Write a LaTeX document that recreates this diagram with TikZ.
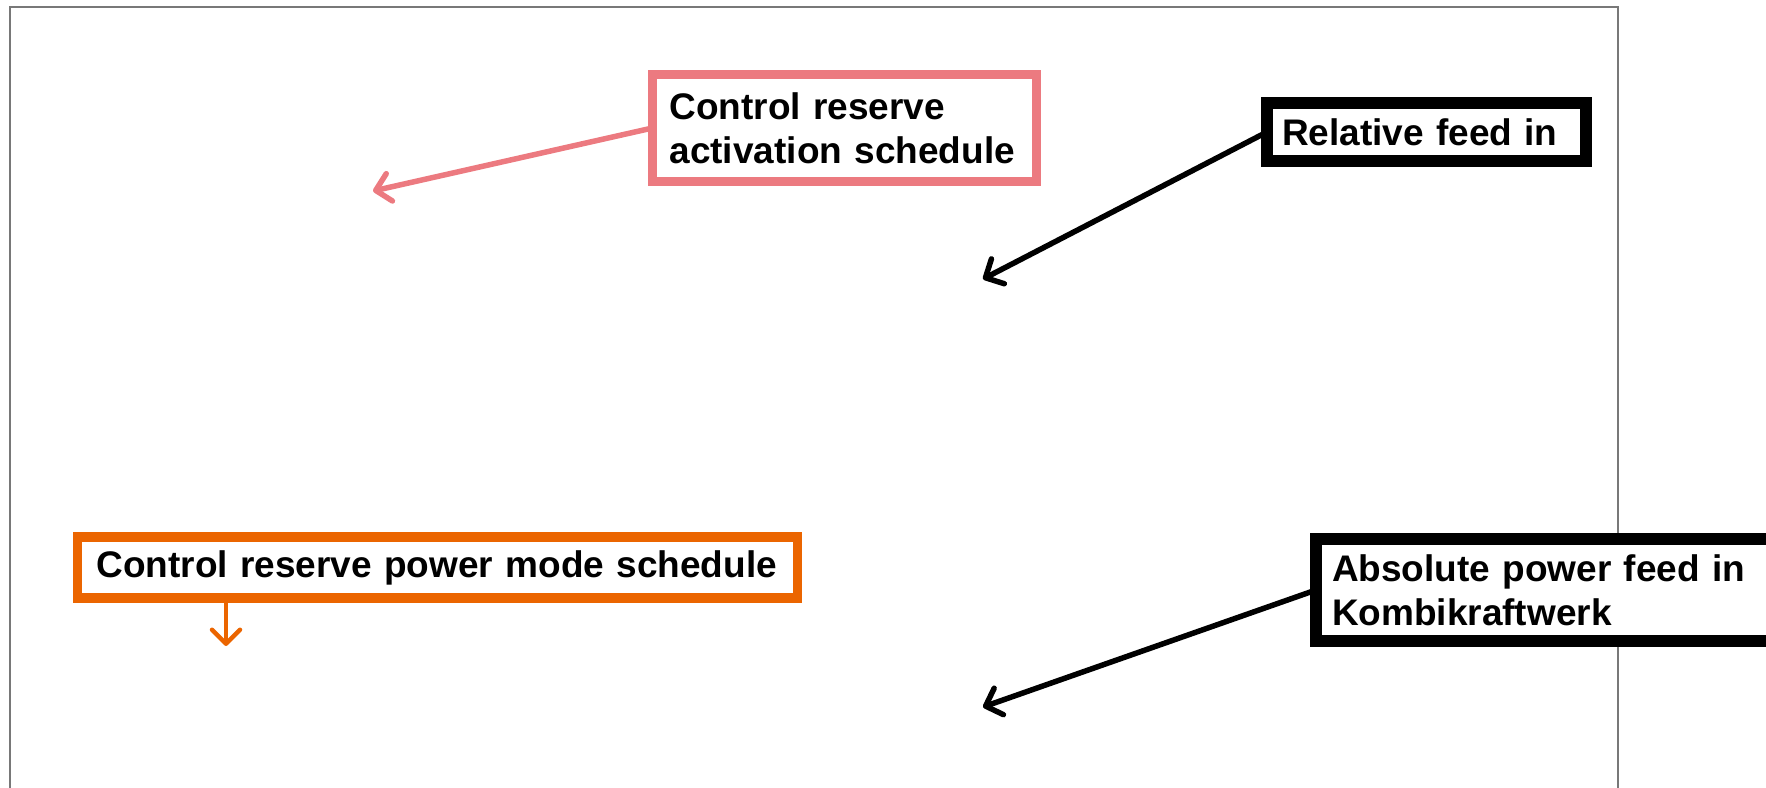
\documentclass[tikz,border=0pt]{standalone}
\usepackage{fontspec}
\setmainfont{Liberation Sans}
\usetikzlibrary{arrows.meta}
\definecolor{pinkc}{RGB}{236,122,128}
\definecolor{orangec}{RGB}{235,101,0}
\definecolor{framec}{RGB}{120,120,120}
\tikzset{
  lbl/.style={font=\fontsize{37}{44}\selectfont\bfseries, align=left, inner ysep=0pt, outer sep=0pt, anchor=center, fill=white},
  arr/.style={line width=5.5pt, -{Straight Barb[length=14pt,width=28pt,round]}}
}
\begin{document}
\begin{tikzpicture}[x=1pt,y=-1pt]
\useasboundingbox (0,0) rectangle (1766,787);
% frame
\draw[framec, line width=1.2pt] (10,800) -- (10,7) -- (1618,7) -- (1618,800);
% boxes
\node[lbl, draw=pinkc, line width=9pt, minimum width=384pt, minimum height=107pt, text width=350pt, inner xsep=17pt] (pbox) at (844.5,128) {Control reserve\\activation schedule};
\node[lbl, draw=black, line width=12pt, minimum width=319pt, minimum height=58pt, text width=289pt, inner xsep=15pt] (rbox) at (1426.5,132) {Relative feed in};
\node[lbl, draw=orangec, line width=9.5pt, minimum width=720pt, minimum height=61pt, text width=682pt, inner xsep=19pt] (obox) at (437.5,567.5) {Control reserve power mode schedule};
\node[lbl, draw=black, line width=12pt, minimum width=560pt, minimum height=102pt, text width=528pt, inner xsep=16pt, anchor=west] (abox) at (1316,590) {Absolute power feed in\\Kombikraftwerk};
% arrow end points
\coordinate (ptip) at (373,191);
\coordinate (rtip) at (983,279);
\coordinate (otip) at (226,646);
\coordinate (atip) at (983,707);
% connectors
\draw[arr, pinkc] (pbox.west) -- (ptip);
\draw[arr, black] (rbox.west) -- (rtip);
\draw[arr, orangec, line width=4.5pt] (obox.south -| otip) -- (otip);
\draw[arr, black] (abox.west) -- (atip);
\end{tikzpicture}
\end{document}
